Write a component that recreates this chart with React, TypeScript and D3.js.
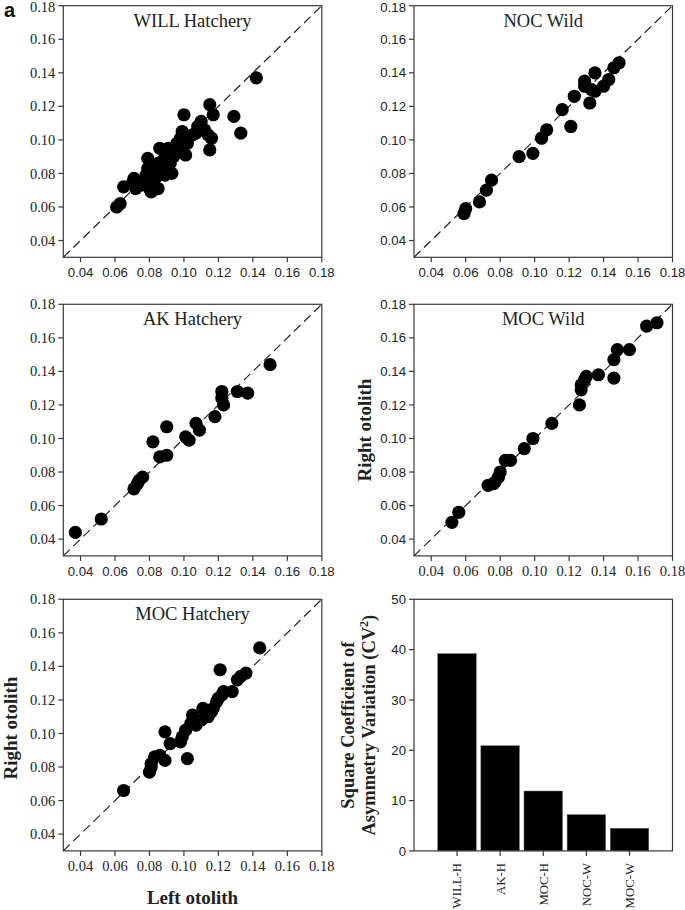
import React from "react";
import * as d3 from "d3";

// ---- data (left otolith, right otolith) ----
const willHatchery: [number, number][] = [
  [0.061, 0.060], [0.063, 0.062], [0.065, 0.072], [0.070, 0.074], [0.071, 0.077],
  [0.072, 0.071], [0.075, 0.073], [0.077, 0.075], [0.078, 0.079], [0.079, 0.083],
  [0.079, 0.089], [0.080, 0.071], [0.081, 0.069], [0.082, 0.074], [0.083, 0.080],
  [0.084, 0.078], [0.085, 0.071], [0.085, 0.086], [0.086, 0.095], [0.087, 0.083],
  [0.088, 0.088], [0.089, 0.079], [0.090, 0.092], [0.091, 0.095], [0.092, 0.086],
  [0.093, 0.080], [0.094, 0.090], [0.095, 0.092], [0.096, 0.098], [0.097, 0.094],
  [0.098, 0.101], [0.099, 0.105], [0.100, 0.115], [0.101, 0.091], [0.102, 0.098],
  [0.105, 0.103], [0.107, 0.104], [0.108, 0.108], [0.110, 0.111], [0.112, 0.106],
  [0.114, 0.103], [0.115, 0.094], [0.115, 0.121], [0.116, 0.101], [0.117, 0.115],
  [0.129, 0.114], [0.133, 0.104], [0.142, 0.137],
];
const nocWild: [number, number][] = [
  [0.059, 0.056], [0.060, 0.059], [0.068, 0.063], [0.072, 0.070], [0.075, 0.076],
  [0.091, 0.090], [0.099, 0.092], [0.104, 0.101], [0.107, 0.106], [0.116, 0.118],
  [0.121, 0.108], [0.123, 0.126], [0.129, 0.132], [0.129, 0.135], [0.132, 0.122],
  [0.133, 0.130], [0.135, 0.140], [0.135, 0.129], [0.140, 0.132], [0.143, 0.136],
  [0.146, 0.143], [0.149, 0.146],
];
const akHatchery: [number, number][] = [
  [0.037, 0.044], [0.052, 0.052], [0.071, 0.070], [0.073, 0.073], [0.074, 0.075],
  [0.076, 0.077], [0.082, 0.098], [0.086, 0.089], [0.090, 0.090], [0.090, 0.107],
  [0.101, 0.101], [0.103, 0.099], [0.107, 0.109], [0.109, 0.105], [0.118, 0.113],
  [0.122, 0.128], [0.122, 0.124], [0.123, 0.120], [0.131, 0.128], [0.137, 0.127],
  [0.150, 0.144],
];
const mocWild: [number, number][] = [
  [0.052, 0.050], [0.056, 0.056], [0.073, 0.072], [0.076, 0.073], [0.077, 0.074],
  [0.079, 0.077], [0.080, 0.080], [0.083, 0.087], [0.086, 0.087], [0.094, 0.094],
  [0.099, 0.100], [0.110, 0.109], [0.126, 0.120], [0.127, 0.129], [0.127, 0.132],
  [0.129, 0.135], [0.130, 0.137], [0.137, 0.138], [0.146, 0.136], [0.146, 0.147],
  [0.148, 0.153], [0.155, 0.153], [0.165, 0.167], [0.171, 0.169],
];
const mocHatchery: [number, number][] = [
  [0.065, 0.066], [0.080, 0.077], [0.081, 0.080], [0.081, 0.082], [0.083, 0.086],
  [0.086, 0.087], [0.089, 0.084], [0.089, 0.101], [0.092, 0.094], [0.098, 0.095],
  [0.099, 0.098], [0.102, 0.085], [0.101, 0.102], [0.104, 0.106], [0.105, 0.111],
  [0.107, 0.105], [0.110, 0.108], [0.111, 0.115], [0.114, 0.110], [0.116, 0.113],
  [0.117, 0.115], [0.119, 0.119], [0.120, 0.121], [0.121, 0.138], [0.122, 0.123],
  [0.123, 0.125], [0.128, 0.125], [0.131, 0.132], [0.133, 0.134], [0.136, 0.136],
  [0.144, 0.151],
];

const axisTicks = [0.04, 0.06, 0.08, 0.1, 0.12, 0.14, 0.16, 0.18];
const axisDomain: [number, number] = [0.03, 0.18];

const barCategories = ["WILL-H", "AK-H", "MOC-H", "NOC-W", "MOC-W"];
const barValues = [39.2, 20.9, 11.9, 7.2, 4.5];
const barTicks = [0, 10, 20, 30, 40, 50];

const SERIF = "'Liberation Serif', 'Times New Roman', serif";
const SANS = "'Liberation Sans', Arial, sans-serif";
const AXIS = "#3a3a3a";

type PanelProps = {
  left: number; top: number; width: number; height: number;
  data: [number, number][]; title: string;
  yFont: string; xFont: string;
};

function Scatter({ left, top, width, height, data, title, yFont, xFont }: PanelProps) {
  const x = d3.scaleLinear().domain(axisDomain).range([left, left + width]);
  const y = d3.scaleLinear().domain(axisDomain).range([top + height, top]);
  const fmt = d3.format(".2f");
  const yFS = yFont === SERIF ? 14.5 : 13.2;
  const xFS = xFont === SERIF ? 14.5 : 13.2;
  return (
    <g>
      <line x1={x(axisDomain[0])} y1={y(axisDomain[0])} x2={x(axisDomain[1])} y2={y(axisDomain[1])}
        stroke="#222" strokeWidth={1.2} strokeDasharray="9,5" />
      {data.map((d, i) => (
        <circle key={i} cx={x(d[0])} cy={y(d[1])} r={6.6} fill="#000" />
      ))}
      <rect x={left} y={top} width={width} height={height} fill="none" stroke={AXIS} strokeWidth={1.2} />
      {axisTicks.map((t) => (
        <g key={"y" + t}>
          <line x1={left - 5} x2={left} y1={y(t)} y2={y(t)} stroke={AXIS} strokeWidth={1.2} />
          <text x={left - 8} y={Math.max(y(t), 7)} dy="0.35em" textAnchor="end" fontFamily={yFont} fontSize={yFS} fill="#222">{fmt(t)}</text>
        </g>
      ))}
      {axisTicks.map((t) => (
        <g key={"x" + t}>
          <line x1={x(t)} x2={x(t)} y1={top + height} y2={top + height + 5} stroke={AXIS} strokeWidth={1.2} />
          <text x={x(t)} y={top + height + 20} textAnchor="middle" fontFamily={xFont} fontSize={xFS} fill="#222">{fmt(t)}</text>
        </g>
      ))}
      <text x={left + width / 2} y={top + 21} textAnchor="middle" fontFamily={SERIF} fontSize={18.5} fill="#222">{title}</text>
    </g>
  );
}

function Bars({ left, top, width, height }: { left: number; top: number; width: number; height: number }) {
  const x = d3.scaleBand<string>().domain(barCategories).range([left, left + width]).paddingInner(0.107).paddingOuter(0.55);
  const y = d3.scaleLinear().domain([0, 50]).range([top + height, top]);
  return (
    <g>
      {barCategories.map((c, i) => (
        <rect key={c} x={x(c)} y={y(barValues[i])} width={x.bandwidth()} height={y(0) - y(barValues[i])}
          fill="#000" stroke="#666" strokeWidth={0.5} />
      ))}
      <rect x={left} y={top} width={width} height={height} fill="none" stroke={AXIS} strokeWidth={1.2} />
      {barTicks.map((t) => (
        <g key={t}>
          <line x1={left - 5} x2={left} y1={y(t)} y2={y(t)} stroke={AXIS} strokeWidth={1.2} />
          <text x={left - 8} y={y(t)} dy="0.35em" textAnchor="end" fontFamily={SANS} fontSize={13.2} fill="#222">{t}</text>
        </g>
      ))}
      {barCategories.map((c) => {
        const cx = (x(c) as number) + x.bandwidth() / 2;
        const ty = top + height + 12;
        return (
          <g key={"l" + c}>
            <line x1={cx} x2={cx} y1={top + height} y2={top + height + 5} stroke={AXIS} strokeWidth={1.2} />
            <text transform={`translate(${cx},${ty}) rotate(-90)`} dy="0.35em" textAnchor="end"
              fontFamily={SERIF} fontSize={12.8} fill="#222">{c}</text>
          </g>
        );
      })}
    </g>
  );
}

export default function App() {
  const L1 = 63.3, L2 = 414, W = 258.5;
  const T1 = 5.7, T2 = 304.3, T3 = 599.3, H = 251.6;
  return (
    <svg width={685} height={910} style={{ position: "absolute", left: 0, top: 0, background: "#fff" }}>
      <rect x={0} y={0} width={685} height={910} fill="#fff" />
      <text x={4} y={17} fontFamily={SANS} fontWeight="bold" fontSize={20} fill="#111">a</text>
      <Scatter left={L1} top={T1} width={W} height={H} data={willHatchery} title="WILL Hatchery" yFont={SERIF} xFont={SANS} />
      <Scatter left={L2} top={T1} width={W} height={H} data={nocWild} title="NOC Wild" yFont={SANS} xFont={SANS} />
      <Scatter left={L1} top={T2} width={W} height={H} data={akHatchery} title="AK Hatchery" yFont={SERIF} xFont={SANS} />
      <Scatter left={L2} top={T2} width={W} height={H} data={mocWild} title="MOC Wild" yFont={SANS} xFont={SERIF} />
      <Scatter left={L1} top={T3} width={W} height={H} data={mocHatchery} title="MOC Hatchery" yFont={SERIF} xFont={SERIF} />
      <Bars left={L2} top={T3} width={W} height={H} />
      {/* axis titles */}
      <text transform={`translate(371,${T2 + H / 2}) rotate(-90)`} textAnchor="middle" fontFamily={SERIF}
        fontWeight="bold" fontSize={19} fill="#222">Right otolith</text>
      <text transform={`translate(17,${T3 + H / 2 + 3}) rotate(-90)`} textAnchor="middle" fontFamily={SERIF}
        fontWeight="bold" fontSize={19} fill="#222">Right otolith</text>
      <text x={L1 + W / 2} y={904} textAnchor="middle" fontFamily={SERIF} fontWeight="bold" fontSize={19} fill="#222">Left otolith</text>
      <text transform={`translate(354,${T3 + H / 2}) rotate(-90)`} textAnchor="middle" fontFamily={SERIF}
        fontWeight="bold" fontSize={18.5} fill="#222">Square Coefficient of</text>
      <text transform={`translate(375,${T3 + H / 2}) rotate(-90)`} textAnchor="middle" fontFamily={SERIF}
        fontWeight="bold" fontSize={18.5} fill="#222">
        Asymmetry Variation (CV<tspan dy={-7} fontSize={12}>2</tspan><tspan dy={7}>)</tspan>
      </text>
    </svg>
  );
}
